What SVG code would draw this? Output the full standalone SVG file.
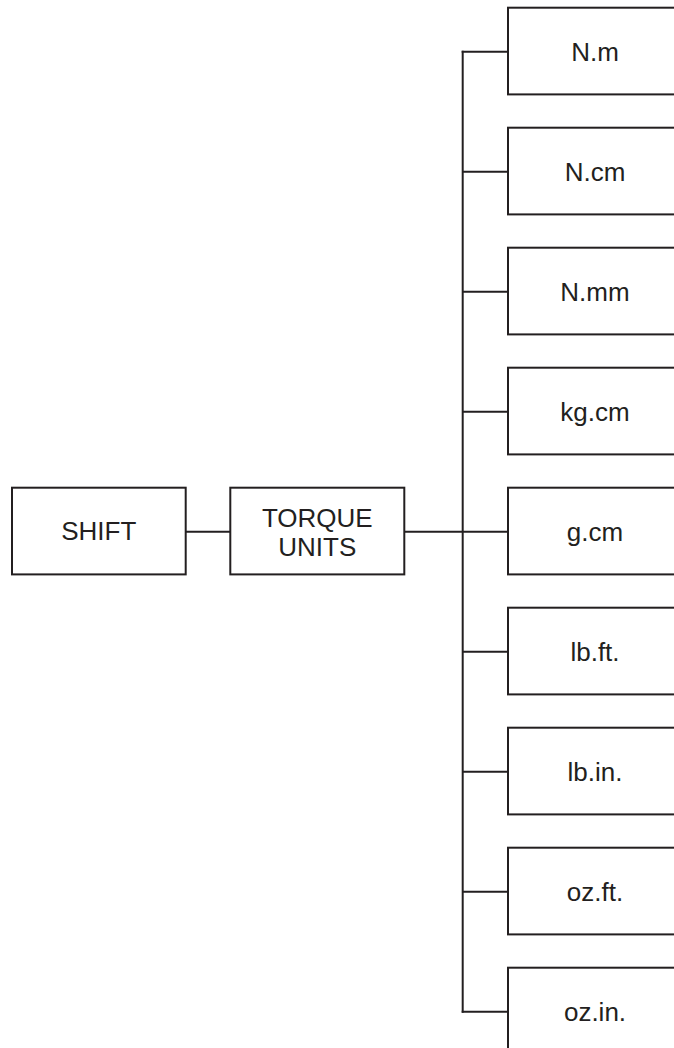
<svg xmlns="http://www.w3.org/2000/svg" width="674" height="1048" viewBox="0 0 674 1048">
<style>
rect{fill:#fff;stroke:#231f20;stroke-width:2}
line,path{fill:none;stroke:#231f20;stroke-width:2}
text{font-family:"Liberation Sans",Arial,sans-serif;font-size:26px;fill:#231f20;text-anchor:middle}
</style>
<rect width="674" height="1048" fill="#fff" stroke="none" style="stroke:none"/>
<g id="connectors">
<line x1="185.7" y1="531.7" x2="230.3" y2="531.7"/>
<line x1="404.3" y1="531.7" x2="508" y2="531.7"/>
<line x1="462.7" y1="50.7" x2="462.7" y2="1012.7"/>
<line x1="461.7" y1="51.7" x2="508" y2="51.7"/>
<line x1="462.7" y1="171.7" x2="508" y2="171.7"/>
<line x1="462.7" y1="291.7" x2="508" y2="291.7"/>
<line x1="462.7" y1="411.7" x2="508" y2="411.7"/>
<line x1="462.7" y1="651.7" x2="508" y2="651.7"/>
<line x1="462.7" y1="771.7" x2="508" y2="771.7"/>
<line x1="462.7" y1="891.7" x2="508" y2="891.7"/>
<line x1="461.7" y1="1011.7" x2="508" y2="1011.7"/>
</g>
<g id="shift"><rect x="12" y="487.7" width="173.7" height="86.7"/><text x="98.8" y="539.5">SHIFT</text></g>
<g id="torque-units"><rect x="230.3" y="487.7" width="174" height="86.7"/><text x="317.3" y="527">TORQUE</text><text x="317.3" y="556.3">UNITS</text></g>
<g id="n-m"><rect x="508" y="7.7" width="174" height="86.7"/><text x="595" y="61">N.m</text></g>
<g id="n-cm"><rect x="508" y="127.7" width="174" height="86.7"/><text x="595" y="181">N.cm</text></g>
<g id="n-mm"><rect x="508" y="247.7" width="174" height="86.7"/><text x="595" y="301">N.mm</text></g>
<g id="kg-cm"><rect x="508" y="367.7" width="174" height="86.7"/><text x="595" y="421">kg.cm</text></g>
<g id="g-cm"><rect x="508" y="487.7" width="174" height="86.7"/><text x="595" y="541">g.cm</text></g>
<g id="lb-ft"><rect x="508" y="607.7" width="174" height="86.7"/><text x="595" y="661">lb.ft.</text></g>
<g id="lb-in"><rect x="508" y="727.7" width="174" height="86.7"/><text x="595" y="781">lb.in.</text></g>
<g id="oz-ft"><rect x="508" y="847.7" width="174" height="86.7"/><text x="595" y="901">oz.ft.</text></g>
<g id="oz-in"><rect x="508" y="967.7" width="174" height="86.7"/><text x="595" y="1021">oz.in.</text></g>
</svg>
